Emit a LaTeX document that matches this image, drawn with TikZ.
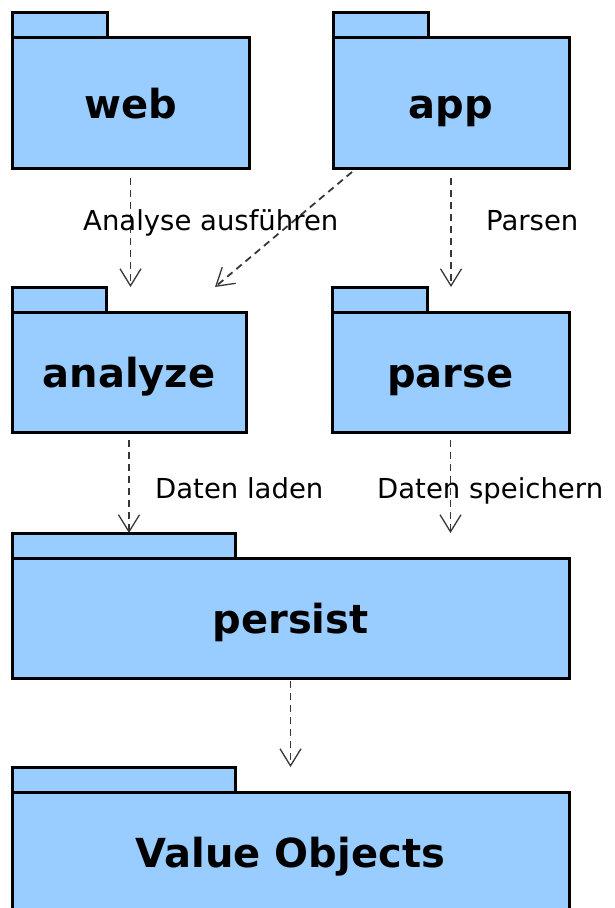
\documentclass[tikz,border=0pt]{standalone}
\usepackage{fontspec}
\setmainfont{DejaVu Sans}
\usetikzlibrary{arrows.meta}
\definecolor{pkgblue}{RGB}{153,204,255}
\definecolor{depgray}{RGB}{55,55,55}
\tikzset{
  pkgbody/.style={draw=black, fill=pkgblue, line width=3pt, inner sep=0pt, outer sep=0pt,
    anchor=north west, font=\fontsize{40}{46}\selectfont\bfseries, text height=31pt, text depth=0pt},
  pkgtab/.style={draw=black, fill=pkgblue, line width=3pt, inner sep=0pt, outer sep=0pt,
    anchor=south west, minimum height=25pt},
  dep/.style={draw=depgray, line width=1.8pt, dash pattern=on 7pt off 5pt,
    -{Straight Barb[length=17pt,width=21pt,line width=1.3pt]}},
  deplabel/.style={font=\fontsize{27.5}{32}\selectfont, anchor=base west, inner sep=0pt},
}
\begin{document}
\begin{tikzpicture}[x=1pt,y=-1pt]
\clip (0,0) rectangle (614,908);
% tabs
\node[pkgtab, minimum width=95pt] (webtab) at (12,37) {};
\node[pkgtab, minimum width=95pt] (apptab) at (333,37) {};
\node[pkgtab, minimum width=94pt] (analyzetab) at (12,312) {};
\node[pkgtab, minimum width=95pt] (parsetab) at (332,312) {};
\node[pkgtab, minimum width=223pt] (persisttab) at (12,558) {};
\node[pkgtab, minimum width=223pt] (votab) at (12,792) {};
% bodies
\node[pkgbody, minimum width=237pt, minimum height=131pt] (web) at (12,37) {web};
\node[pkgbody, minimum width=236pt, minimum height=131pt] (app) at (333,37) {app};
\node[pkgbody, minimum width=234pt, minimum height=120pt] (analyze) at (12,312) {analyze};
\node[pkgbody, minimum width=237pt, minimum height=120pt] (parse) at (332,312) {parse};
\node[pkgbody, minimum width=557pt, minimum height=120pt] (persist) at (12,558) {persist};
\node[pkgbody, minimum width=557pt, minimum height=120pt] (vo) at (12,792) {Value Objects};
% dependencies
\draw[dep] ([yshift=-10pt]web.south) -- (web.south |- analyzetab.north);
\draw[dep] ([xshift=19pt,yshift=-4pt]app.south west) -- ([xshift=-31pt]analyze.east |- analyzetab.north);
\draw[dep] ([yshift=-10pt]app.south) -- (app.south |- parsetab.north);
\draw[dep] ([yshift=-8pt]analyze.south) -- (analyze.south |- persisttab.north);
\draw[dep] ([yshift=-8pt]parse.south) -- (parse.south |- persisttab.north);
\draw[dep] ([yshift=-3pt]persist.south) -- (persist.south |- votab.north);
% labels
\node[deplabel] (lab1) at (83,230) {Analyse ausführen};
\node[deplabel] (lab2) at (486,230) {Parsen};
\node[deplabel] (lab3) at (155,498) {Daten laden};
\node[deplabel] (lab4) at (377,498) {Daten speichern};
\end{tikzpicture}
\end{document}
